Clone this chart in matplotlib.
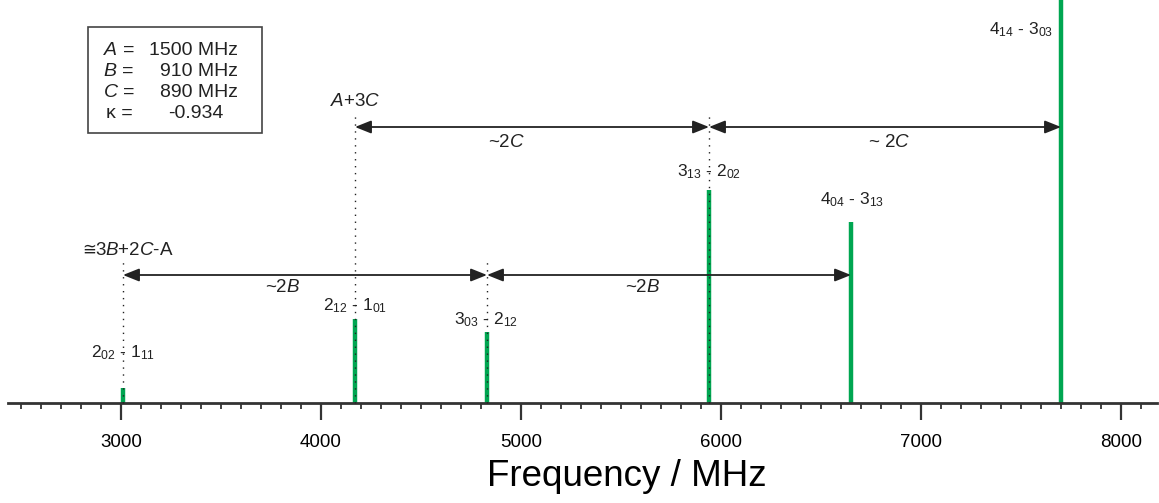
import matplotlib
matplotlib.use("Agg")
import matplotlib.pyplot as plt
from matplotlib.patches import FancyArrowPatch, Rectangle
from matplotlib.ticker import MultipleLocator

plt.rcParams['font.family'] = ['Liberation Sans', 'DejaVu Sans']
plt.rcParams['mathtext.fontset'] = 'custom'
plt.rcParams['mathtext.rm'] = 'Liberation Sans'
plt.rcParams['mathtext.it'] = 'Liberation Sans:italic'
plt.rcParams['mathtext.bf'] = 'Liberation Sans:bold'

# ---- data ----
freqs = [3010, 4170, 4830, 5940, 6650, 7700]
intensities = [15, 84, 71, 213, 181, 430]
transitions = [r'$2_{02}$ - $1_{11}$', r'$2_{12}$ - $1_{01}$', r'$3_{03}$ - $2_{12}$',
               r'$3_{13}$ - $2_{02}$', r'$4_{04}$ - $3_{13}$', r'$4_{14}$ - $3_{03}$']
consts_names = [r'$A$ =', r'$B$ =', r'$C$ =', 'κ =']
consts_vals = ['1500 MHz', '910 MHz', '890 MHz', '-0.934']
xticks_major = [3000, 4000, 5000, 6000, 7000, 8000]

GREEN = '#00a651'
DARK = '#222222'

W, H = 1159, 503
fig = plt.figure(figsize=(W / 100, H / 100), dpi=100)
ax = fig.add_axes([0, 0, 1, 1])


def fx(px):
    return 3000 + (px - 121) * 5.0


def fy(py):
    return 403 - py


ax.set_xlim(fx(0), fx(W))
ax.set_ylim(fy(H), fy(0))

# dotted guide lines
dot_tops = {3010: 143, 4170: 287, 4830: 143, 5940: 291}
for f, top in dot_tops.items():
    ax.plot([f, f], [0, top], color=DARK, lw=1.0, ls=(0, (1, 4)), zorder=3)

# spectral lines
ax.vlines(freqs, 0, intensities, color=GREEN, lw=3.2, zorder=2)

# axis
for s in ['top', 'right', 'left']:
    ax.spines[s].set_visible(False)
ax.spines['bottom'].set_position(('data', 0))
ax.spines['bottom'].set_bounds(2435, 8180)
ax.spines['bottom'].set_linewidth(2.0)
ax.spines['bottom'].set_color('#333333')
ax.set_yticks([])
ax.set_xticks(xticks_major)
minor = [m for m in range(2500, 8200, 100) if m % 1000 != 0]
ax.set_xticks(minor, minor=True)
ax.tick_params(axis='x', which='major', direction='out', length=12.5, width=1.6,
               color='#333333', labelsize=13.5, pad=10)
ax.tick_params(axis='x', which='minor', direction='out', length=4.5, width=1.3,
               color='#333333')
ax.set_xlabel('Frequency / MHz', fontsize=26.5)
ax.xaxis.set_label_coords(627 / W, (H - 459) / H)

# transition labels
label_pos = [(fx(123), 50), (fx(355), 97), (fx(486), 83), (fx(709), 231),
             (fx(852), 203), (fx(1021), 373)]
for (x, y), t in zip(label_pos, transitions):
    ax.text(x, y, t, ha='center', va='center', fontsize=12.5, color=DARK)

# arrows
def darrow(x0, x1, y):
    a = FancyArrowPatch((x0, y), (x1, y),
                        arrowstyle='<|-|>,head_length=0.7,head_width=0.28',
                        color=DARK, lw=1.3, shrinkA=0, shrinkB=0,
                        mutation_scale=14, zorder=4)
    ax.add_patch(a)

y_low = fy(275)
y_high = fy(127)
darrow(freqs[0], freqs[2], y_low)
darrow(freqs[2], freqs[4], y_low)
darrow(freqs[1], freqs[3], y_high)
darrow(freqs[3], freqs[5], y_high)

ax.text(fx(283), fy(288), r'~$\mathit{2B}$', ha='center', va='center', fontsize=13.5, color=DARK)
ax.text(fx(643), fy(288), r'~$\mathit{2B}$', ha='center', va='center', fontsize=13.5, color=DARK)
ax.text(fx(507), fy(142), r'~$\mathit{2C}$', ha='center', va='center', fontsize=13.5, color=DARK)
ax.text(fx(889), fy(142), r'~ $\mathit{2C}$', ha='center', va='center', fontsize=13.5, color=DARK)

ax.text(fx(355), fy(101), r'$A$+3$C$', ha='center', va='center', fontsize=13.5, color=DARK)
ax.text(fx(82), fy(250), '≅', ha='left', va='center', fontsize=12, color=DARK,
        family=['DejaVu Sans'])
ax.text(fx(95), fy(250), r'$\mathit{3B}$+$\mathit{2C}$-A', ha='left', va='center',
        fontsize=13.5, color=DARK)

# constants box
ax.add_patch(Rectangle((fx(88), fy(133)), fx(262) - fx(88), fy(27) - fy(133),
                       fill=False, ec='#444444', lw=1.2, zorder=5))
rows_y = [50, 71, 92, 113]
for i, (n, v) in enumerate(zip(consts_names, consts_vals)):
    ax.text(fx(103 if i < 3 else 106), fy(rows_y[i]), n, ha='left', va='center',
            fontsize=14, color=DARK)
    if i < 3:
        ax.text(fx(238), fy(rows_y[i]), v, ha='right', va='center', fontsize=14, color=DARK)
    else:
        ax.text(fx(168), fy(rows_y[i]), v, ha='left', va='center', fontsize=14, color=DARK)

fig.savefig('out.png', dpi=100)
